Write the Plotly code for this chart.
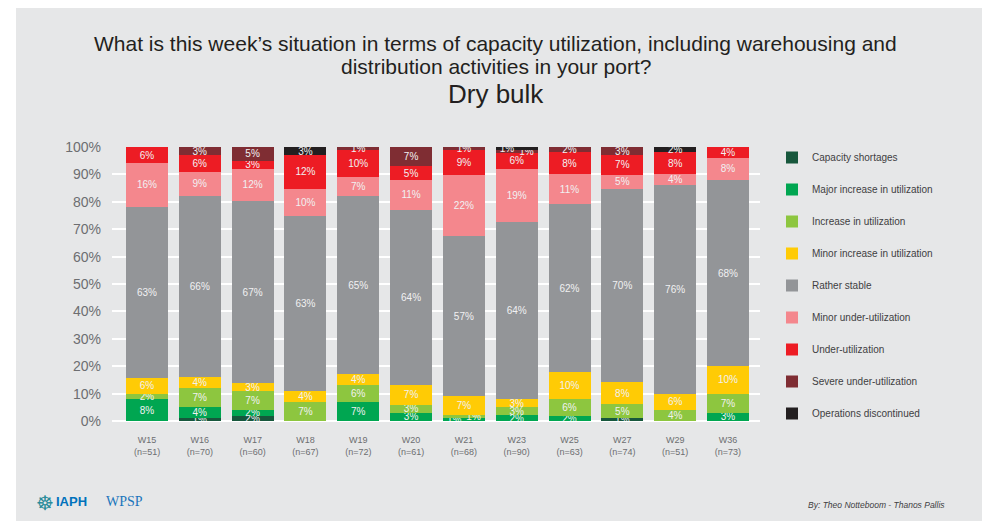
import plotly.graph_objects as go

weeks = ["W15", "W16", "W17", "W18", "W19", "W20", "W21", "W23", "W25", "W27", "W29", "W36"]
n_resp = [51, 70, 60, 67, 72, 61, 68, 90, 63, 74, 51, 73]

capacity_shortages = [0, 1, 2, 0, 0, 0, 0, 0, 0, 1, 0, 0]
major_increase = [8, 4, 2, 0, 7, 3, 1, 2, 2, 0, 0, 3]
increase = [2, 7, 7, 7, 6, 3, 1, 3, 6, 5, 4, 7]
minor_increase = [6, 4, 3, 4, 4, 7, 7, 3, 10, 8, 6, 10]
rather_stable = [63, 66, 67, 63, 65, 64, 57, 64, 62, 70, 76, 68]
minor_under = [16, 9, 12, 10, 7, 11, 22, 19, 11, 5, 4, 8]
under = [6, 6, 3, 12, 10, 5, 9, 6, 8, 7, 8, 4]
severe_under = [0, 3, 5, 0, 1, 7, 1, 1, 2, 3, 0, 0]
ops_discontinued = [0, 0, 0, 3, 0, 0, 0, 1, 0, 0, 2, 0]

series_names = [
    "Capacity shortages",
    "Major increase in utilization",
    "Increase in utilization",
    "Minor increase in utilization",
    "Rather stable",
    "Minor under-utilization",
    "Under-utilization",
    "Severe under-utilization",
    "Operations discontinued",
]
series_values = [
    capacity_shortages, major_increase, increase, minor_increase, rather_stable,
    minor_under, under, severe_under, ops_discontinued,
]
series_colors = [
    "#17573C", "#00A651", "#8DC63F", "#FFCB05", "#939598",
    "#F4878D", "#ED1C24", "#7F2D33", "#231F20",
]

# labels shifted sideways where two tiny segments share the same spot (style only)
label_shift = {
    ("Major increase in utilization", "W21"): "left",
    ("Increase in utilization", "W21"): "right",
    ("Operations discontinued", "W23"): "left",
    ("Severe under-utilization", "W23"): "right",
}
PAD = "\u00a0" * 7

BG = "#E6E7E8"
FONT = "Liberation Sans, Arial, sans-serif"

x_labels = [f"{w}<br>(n={n})" for w, n in zip(weeks, n_resp)]

fig = go.Figure()
for name, vals, col in zip(series_names, series_values, series_colors):
    texts = []
    for w, v in zip(weeks, vals):
        if v <= 0:
            texts.append("")
            continue
        t = f"{v}%"
        side = label_shift.get((name, w))
        if side == "left":
            t = t + PAD
        elif side == "right":
            t = PAD + t
        texts.append(t)
    fig.add_trace(go.Bar(
        x=x_labels, y=vals, name=name, marker=dict(color=col, line=dict(width=0)),
        text=texts, textposition="inside", insidetextanchor="middle",
        textfont=dict(color="#F1F1F2", size=10, family=FONT),
        constraintext="none",
        legendgroup=name, hoverinfo="skip",
    ))

L, R, T, B = 112, 222, 147, 100
W, H = 982, 521
pw, ph = W - L - R, H - T - B

def px(xp):
    return (xp - L) / pw

def py(yp):
    return (H - B - yp) / ph

fig.update_layout(
    width=W, height=H,
    margin=dict(l=L, r=R, t=T, b=B, pad=0),
    barmode="stack", barnorm="percent", bargap=0.205,
    paper_bgcolor=BG, plot_bgcolor=BG,
    font=dict(family=FONT, color="#6D6E71"),
    uniformtext=dict(minsize=10, mode="show"),
    xaxis=dict(showgrid=False, showline=False, ticks="", range=[-0.663, 11.606],
               tickfont=dict(size=9, color="#6D6E71"), ticklabelstandoff=12,
               fixedrange=True),
    yaxis=dict(range=[0, 100], dtick=10, ticksuffix="%", showgrid=True,
               gridcolor="#FFFFFF", gridwidth=2, zeroline=True, zerolinecolor="#FFFFFF",
               zerolinewidth=2, tickfont=dict(size=14, color="#6D6E71"), ticks="",
               ticklabelstandoff=10, showline=False, fixedrange=True),
    legend=dict(x=px(772), y=py(143), xanchor="left", yanchor="top",
                traceorder="grouped", tracegroupgap=13, maxheight=420,
                font=dict(size=10, color="#414042"), bgcolor="rgba(0,0,0,0)"),
    showlegend=True,
    shapes=[
        dict(type="rect", xref="paper", yref="paper", x0=-1, x1=2, y0=py(8), y1=2,
             fillcolor="#FFFFFF", line=dict(width=0), layer="above"),
        dict(type="rect", xref="paper", yref="paper", x0=-1, x1=px(16), y0=-1, y1=2,
             fillcolor="#FFFFFF", line=dict(width=0), layer="above"),
    ],
    annotations=[
        dict(text="What is this week\u2019s situation in terms of capacity utilization, including warehousing and",
             x=px(495), y=py(44), xref="paper", yref="paper", yanchor="middle",
             showarrow=False, font=dict(size=21, color="#231F20")),
        dict(text="distribution activities in your port?",
             x=px(496), y=py(67), xref="paper", yref="paper", yanchor="middle",
             showarrow=False, font=dict(size=21, color="#231F20")),
        dict(text="Dry bulk",
             x=px(496), y=py(94), xref="paper", yref="paper", yanchor="middle",
             showarrow=False, font=dict(size=26, color="#231F20")),
        dict(text="\u2638", x=px(34), y=py(503), xref="paper", yref="paper",
             xanchor="left", yanchor="middle", showarrow=False,
             font=dict(size=20, color="#2A8C9A")),
        dict(text="<b>IAPH</b>", x=px(54), y=py(501), xref="paper", yref="paper",
             xanchor="left", yanchor="middle", showarrow=False,
             font=dict(size=13, color="#0072BC")),
        dict(text="WPSP", x=px(104), y=py(501), xref="paper", yref="paper",
             xanchor="left", yanchor="middle", showarrow=False,
             font=dict(size=14, color="#1B75BC", family="Liberation Serif, serif")),
        dict(text="<i>By: Theo Notteboom - Thanos Pallis</i>", x=px(947), y=py(505),
             xref="paper", yref="paper", xanchor="right", yanchor="middle",
             showarrow=False, font=dict(size=8.5, color="#414042")),
    ],
)

fig.write_html("out.html", config={"displayModeBar": False},
               post_script="document.body.style.margin='0';")
